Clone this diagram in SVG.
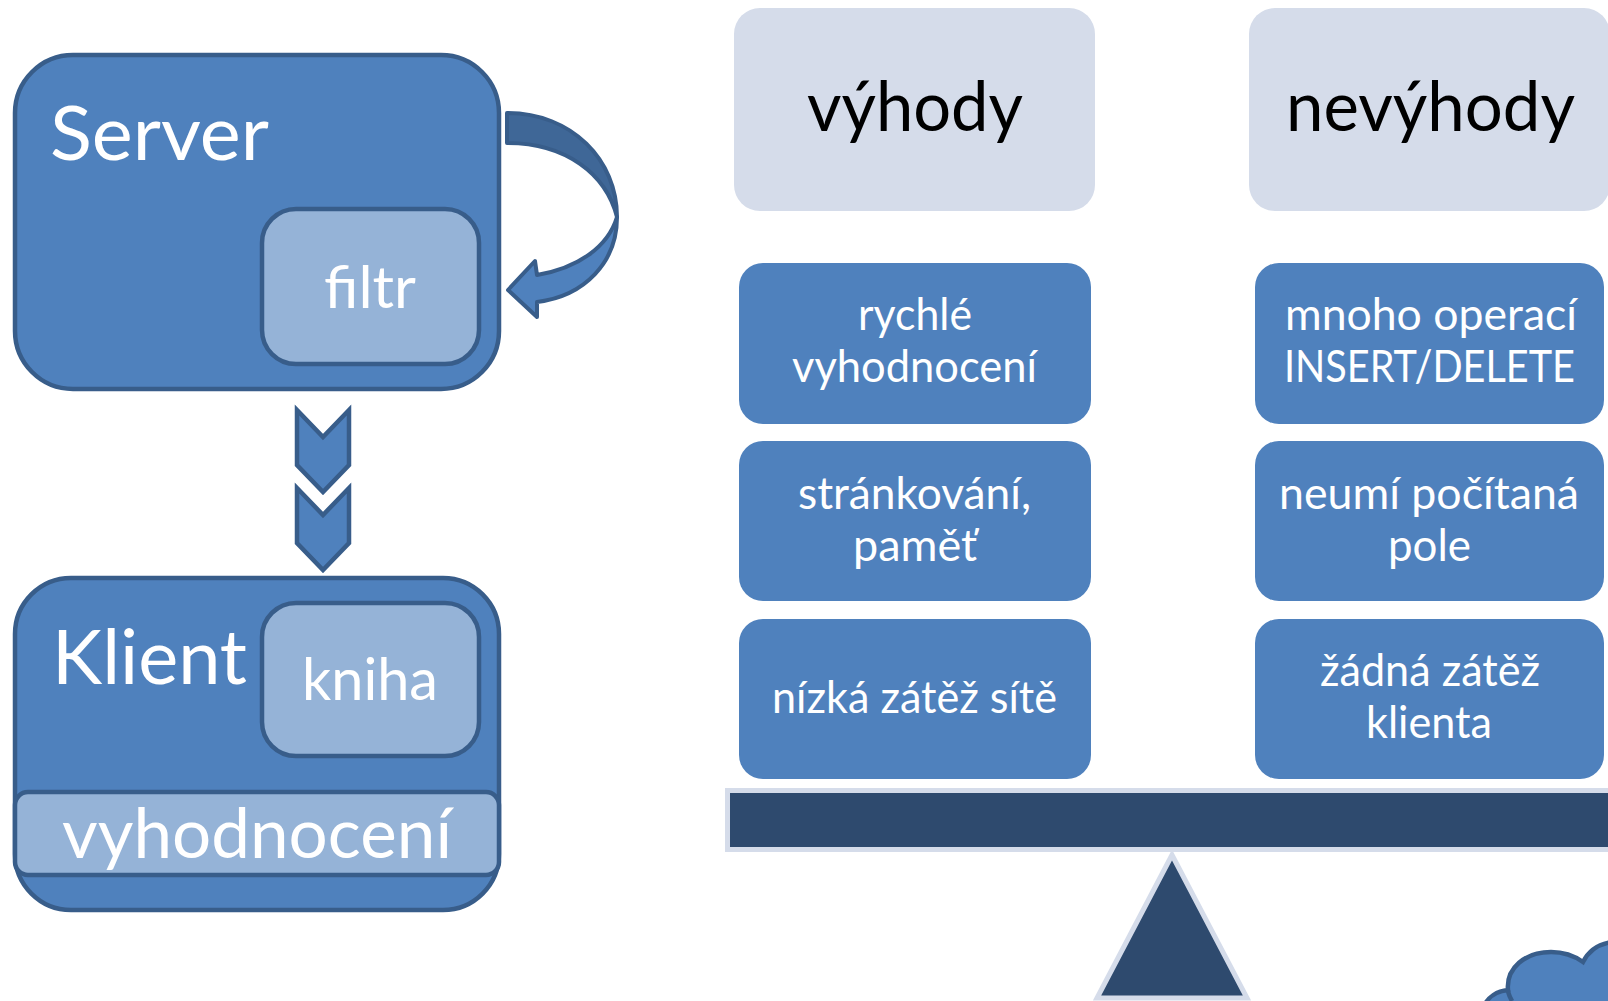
<svg xmlns="http://www.w3.org/2000/svg" width="1608" height="1001" viewBox="0 0 1608 1001">
<style>
.outer{fill:#4F81BD;stroke:#385D8A;stroke-width:4.5}
.inner{fill:#95B3D7;stroke:#385D8A;stroke-width:4.5}
.hdr{fill:#D5DCEA}
.item{fill:#4F81BD}
.t{font-family:Lato,"Open Sans","Liberation Sans",sans-serif;fill:#FFFFFF}
.big{font-size:75px}
.mid{font-size:58px}
.h{font-size:70px;fill:#000000;text-anchor:middle}
.it{font-size:45px;text-anchor:middle}
.c{text-anchor:middle}
</style>
<rect width="1608" height="1001" fill="#FFFFFF"/>

<g id="server">
<rect class="outer" x="15" y="55" width="484" height="334" rx="58"/>
<text class="t big" x="50" y="160" textLength="219" lengthAdjust="spacingAndGlyphs">Server</text>
</g>
<g id="filtr">
<rect class="inner" x="262" y="209" width="217" height="155" rx="34"/>
<text class="t mid c" x="370" y="308" textLength="92" lengthAdjust="spacingAndGlyphs">filtr</text>
</g>

<g id="klient">
<rect class="outer" x="15" y="578" width="484" height="332" rx="56"/>
<text class="t big" x="52" y="684" textLength="195" lengthAdjust="spacingAndGlyphs">Klient</text>
</g>
<g id="kniha">
<rect class="inner" x="262" y="603" width="217" height="153" rx="34"/>
<text class="t mid c" x="370" y="700" textLength="136" lengthAdjust="spacingAndGlyphs">kniha</text>
</g>
<g id="vyhodnoceni">
<rect class="inner" x="15" y="792" width="484" height="83" rx="13"/>
<text class="t c" x="257" y="858" font-size="70" textLength="390" lengthAdjust="spacingAndGlyphs">vyhodnocení</text>
</g>

<g id="connectors">
<path d="M507,113 C572,113 617,160 617,217 C606,174 566,143 507,143 Z" fill="#3F6797" stroke="#385D8A" stroke-width="4" stroke-linejoin="round"/>
<path d="M617,217 C617,262 585,296 537,302 L537,317 L508,290 L535,261 L537,275 C578,268 608,247 617,217 Z" fill="#4F81BD" stroke="#385D8A" stroke-width="4" stroke-linejoin="round"/>
<polygon class="outer" points="297,410 323,437 349,410 349,465 323,492 297,465"/>
<polygon class="outer" points="297,488 323,515 349,488 349,543 323,570 297,543"/>
</g>

<g id="vyhody">
<rect class="hdr" x="734" y="8" width="361" height="203" rx="26"/>
<text class="t h" x="915" y="131" textLength="216" lengthAdjust="spacingAndGlyphs">výhody</text>
</g>
<g id="nevyhody">
<rect class="hdr" x="1249" y="8" width="361" height="203" rx="26"/>
<text class="t h" x="1430.5" y="131" textLength="289" lengthAdjust="spacingAndGlyphs">nevýhody</text>
</g>

<g id="rychle">
<rect class="item" x="739" y="263" width="352" height="161" rx="24"/>
<text class="t it" x="915" y="330" textLength="114" lengthAdjust="spacingAndGlyphs">rychlé</text>
<text class="t it" x="914.5" y="382" textLength="245" lengthAdjust="spacingAndGlyphs">vyhodnocení</text>
</g>
<g id="strankovani">
<rect class="item" x="739" y="441" width="352" height="160" rx="24"/>
<text class="t it" x="914.5" y="509" textLength="233" lengthAdjust="spacingAndGlyphs">stránkování,</text>
<text class="t it" x="915" y="561" textLength="124" lengthAdjust="spacingAndGlyphs">paměť</text>
</g>
<g id="nizka">
<rect class="item" x="739" y="619" width="352" height="160" rx="24"/>
<text class="t it" x="914.5" y="713" textLength="285" lengthAdjust="spacingAndGlyphs">nízká zátěž sítě</text>
</g>

<g id="mnoho">
<rect class="item" x="1255" y="263" width="349" height="161" rx="24"/>
<text class="t it" x="1431" y="330" textLength="292" lengthAdjust="spacingAndGlyphs">mnoho operací</text>
<text class="t it" x="1429.5" y="382" font-size="41" textLength="291" lengthAdjust="spacingAndGlyphs">INSERT/DELETE</text>
</g>
<g id="neumi">
<rect class="item" x="1255" y="441" width="349" height="160" rx="24"/>
<text class="t it" x="1429" y="509" textLength="300" lengthAdjust="spacingAndGlyphs">neumí počítaná</text>
<text class="t it" x="1429.5" y="561" textLength="83" lengthAdjust="spacingAndGlyphs">pole</text>
</g>
<g id="zadna">
<rect class="item" x="1255" y="619" width="349" height="160" rx="24"/>
<text class="t it" x="1430" y="686" textLength="220" lengthAdjust="spacingAndGlyphs">žádná zátěž</text>
<text class="t it" x="1429" y="738" textLength="126" lengthAdjust="spacingAndGlyphs">klienta</text>
</g>

<g id="scale">
<rect x="727.5" y="790.5" width="900" height="59" fill="#2E4A6E" stroke="#D5DCEA" stroke-width="5"/>
<polygon points="1172,855 1247,998 1097,998" fill="#2E4A6E" stroke="#D5DCEA" stroke-width="5" stroke-linejoin="miter"/>
</g>

<g id="cloud">
<path d="M1484,1006 C1488,997 1497,991 1508,990 C1506,968 1525,952 1551,952 C1565,952 1576,957 1583,962 C1589,950 1598,944 1612,942 L1612,1006 Z" fill="#4F81BD" stroke="#385D8A" stroke-width="4.5"/>
<path d="M1508,990 C1508,994 1510,997 1512,1001" fill="none" stroke="#385D8A" stroke-width="4.5"/>
</g>
</svg>
